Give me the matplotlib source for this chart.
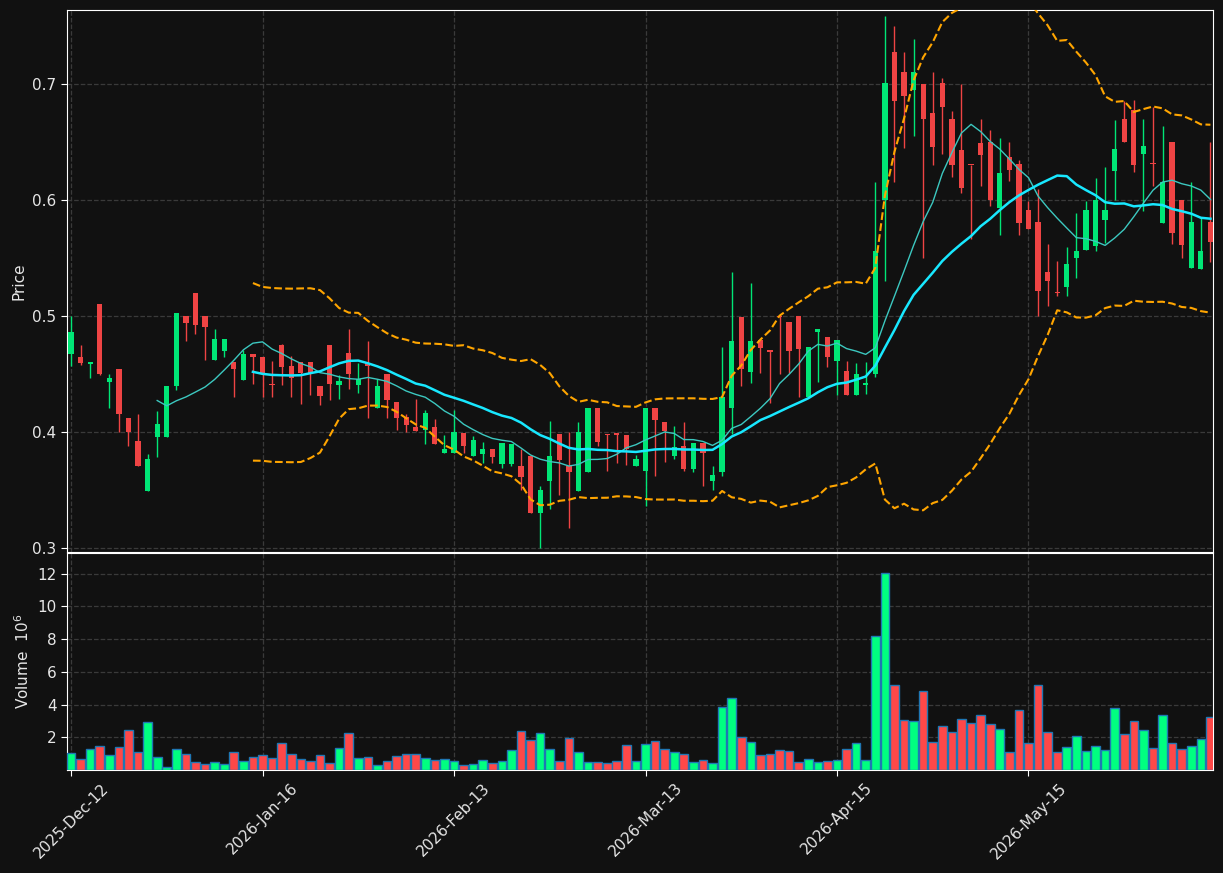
import matplotlib
matplotlib.use('Agg')
import matplotlib.pyplot as plt
import numpy as np
import pandas as pd

# daily OHLC (120 sessions)
opens = [0.4669, 0.4648, 0.4583, 0.5104, 0.4428, 0.4544, 0.4124, 0.3924, 0.3495, 0.3954,
         0.3954, 0.4392, 0.5003, 0.5200, 0.5003, 0.4619, 0.4696, 0.4607, 0.4446, 0.4672,
         0.4648, 0.4409, 0.4753, 0.4571, 0.4604, 0.4604, 0.4398, 0.4753, 0.4401, 0.4684,
         0.4401, 0.4595, 0.4204, 0.4502, 0.4261, 0.4133, 0.4046, 0.4014, 0.4046, 0.3817,
         0.3817, 0.3993, 0.3796, 0.3808, 0.3856, 0.3721, 0.3721, 0.3707, 0.3796, 0.3298,
         0.3581, 0.3981, 0.3707, 0.3495, 0.3659, 0.4207, 0.3984, 0.3993, 0.3975, 0.3707,
         0.3668, 0.4207, 0.4088, 0.3796, 0.3879, 0.3677, 0.3906, 0.3581, 0.3659, 0.4204,
         0.4994, 0.4520, 0.4795, 0.4699, 0.4997, 0.4950, 0.5003, 0.4303, 0.4860, 0.4821,
         0.4610, 0.4526, 0.4315, 0.4407, 0.4496, 0.5996, 0.7277, 0.7104, 0.6946, 0.6994,
         0.6744, 0.7006, 0.6693, 0.6425, 0.6303, 0.6493, 0.6502, 0.5927, 0.6365, 0.6312,
         0.5909, 0.5805, 0.5382, 0.5200, 0.5248, 0.5498, 0.5567, 0.5599, 0.5826, 0.6246,
         0.6693, 0.6771, 0.6395, 0.6318, 0.5799, 0.6502, 0.6002, 0.5411, 0.5402, 0.5805]
highs = [0.5000, 0.4750, 0.4607, 0.5104, 0.4503, 0.4544, 0.4124, 0.4154, 0.3811, 0.4183,
         0.4398, 0.5027, 0.5003, 0.5200, 0.5003, 0.4887, 0.4803, 0.4607, 0.4705, 0.4672,
         0.4648, 0.4613, 0.4762, 0.4654, 0.4604, 0.4604, 0.4398, 0.4753, 0.4491, 0.4890,
         0.4595, 0.4786, 0.4458, 0.4502, 0.4261, 0.4154, 0.4288, 0.4189, 0.4109, 0.3975,
         0.4189, 0.3993, 0.3966, 0.3915, 0.3856, 0.3906, 0.3897, 0.3856, 0.3796, 0.3537,
         0.4094, 0.3981, 0.4000, 0.4088, 0.4207, 0.4207, 0.3984, 0.3993, 0.3975, 0.3802,
         0.4207, 0.4207, 0.4088, 0.4055, 0.4088, 0.3906, 0.3906, 0.3707, 0.4735, 0.5376,
         0.4994, 0.5283, 0.4795, 0.4699, 0.4997, 0.4950, 0.5003, 0.4735, 0.4890, 0.4821,
         0.4792, 0.4610, 0.4595, 0.4601, 0.6157, 0.7587, 0.7501, 0.7274, 0.7382, 0.6994,
         0.7104, 0.7051, 0.6768, 0.6994, 0.6303, 0.6693, 0.6598, 0.6532, 0.6499, 0.6341,
         0.5990, 0.6097, 0.5620, 0.5474, 0.5590, 0.5888, 0.5990, 0.6186, 0.6285, 0.6687,
         0.6851, 0.6860, 0.6699, 0.6797, 0.6637, 0.6502, 0.6002, 0.6157, 0.5853, 0.6499]
lows = [0.4571, 0.4580, 0.4464, 0.4488, 0.4207, 0.4000, 0.3876, 0.3704, 0.3495, 0.3781,
        0.3954, 0.4362, 0.4786, 0.4845, 0.4622, 0.4619, 0.4645, 0.4303, 0.4446, 0.4413,
        0.4303, 0.4303, 0.4407, 0.4303, 0.4243, 0.4318, 0.4234, 0.4273, 0.4282, 0.4371,
        0.4333, 0.4124, 0.4204, 0.4124, 0.4020, 0.4000, 0.4005, 0.3900, 0.3900, 0.3817,
        0.3817, 0.3817, 0.3796, 0.3730, 0.3730, 0.3686, 0.3707, 0.3498, 0.3298, 0.3000,
        0.3340, 0.3459, 0.3170, 0.3495, 0.3659, 0.3879, 0.3662, 0.3730, 0.3713, 0.3707,
        0.3358, 0.3617, 0.3745, 0.3766, 0.3662, 0.3653, 0.3534, 0.3498, 0.3617, 0.3981,
        0.4392, 0.4422, 0.4505, 0.4249, 0.4496, 0.4511, 0.4303, 0.4303, 0.4428, 0.4556,
        0.4318, 0.4315, 0.4315, 0.4327, 0.4473, 0.5301, 0.6157, 0.6449, 0.6550, 0.5501,
        0.6300, 0.6395, 0.6195, 0.6061, 0.5659, 0.6121, 0.5948, 0.5698, 0.6160, 0.5698,
        0.5745, 0.5000, 0.5087, 0.5167, 0.5173, 0.5328, 0.5567, 0.5555, 0.5626, 0.5999,
        0.6496, 0.6240, 0.5906, 0.6121, 0.5799, 0.5620, 0.5501, 0.5411, 0.5402, 0.5465]
closes = [0.4857, 0.4592, 0.4607, 0.4496, 0.4467, 0.4151, 0.3996, 0.3704, 0.3769, 0.4070,
          0.4398, 0.5027, 0.4938, 0.4920, 0.4902, 0.4803, 0.4803, 0.4541, 0.4675, 0.4643,
          0.4511, 0.4405, 0.4556, 0.4461, 0.4505, 0.4505, 0.4306, 0.4410, 0.4443, 0.4496,
          0.4452, 0.4565, 0.4398, 0.4279, 0.4118, 0.4064, 0.4011, 0.4166, 0.3900, 0.3856,
          0.4000, 0.3876, 0.3930, 0.3856, 0.3787, 0.3906, 0.3897, 0.3608, 0.3298, 0.3498,
          0.3796, 0.3760, 0.3659, 0.4000, 0.4207, 0.3915, 0.3972, 0.3972, 0.3856, 0.3766,
          0.4207, 0.4100, 0.4005, 0.3871, 0.3683, 0.3906, 0.3817, 0.3632, 0.4303, 0.4786,
          0.4541, 0.4786, 0.4720, 0.4693, 0.4988, 0.4696, 0.4711, 0.4735, 0.4890, 0.4643,
          0.4792, 0.4315, 0.4502, 0.4413, 0.5555, 0.7006, 0.6851, 0.6893, 0.7104, 0.6696,
          0.6455, 0.6797, 0.6300, 0.6100, 0.6297, 0.6386, 0.5996, 0.6234, 0.6255, 0.5799,
          0.5745, 0.5212, 0.5298, 0.5194, 0.5450, 0.5555, 0.5909, 0.6002, 0.5909, 0.6434,
          0.6496, 0.6300, 0.6461, 0.6306, 0.6157, 0.5713, 0.5608, 0.5805, 0.5555, 0.5635]
volumes = [1.02, 0.66, 1.27, 1.45, 0.90, 1.39, 2.43, 1.09, 2.91, 0.78,
           0.17, 1.27, 0.96, 0.48, 0.35, 0.48, 0.35, 1.09, 0.54, 0.78,
           0.90, 0.72, 1.63, 0.96, 0.66, 0.54, 0.90, 0.42, 1.33, 2.24,
           0.72, 0.78, 0.29, 0.54, 0.84, 0.96, 0.96, 0.72, 0.60, 0.66,
           0.54, 0.29, 0.35, 0.60, 0.42, 0.54, 1.21, 2.37, 1.82, 2.24,
           1.27, 0.54, 1.94, 1.09, 0.48, 0.48, 0.42, 0.54, 1.51, 0.54,
           1.57, 1.76, 1.27, 1.09, 0.96, 0.48, 0.60, 0.42, 3.87, 4.38,
           2.00, 1.70, 0.90, 0.96, 1.21, 1.15, 0.48, 0.66, 0.48, 0.54,
           0.60, 1.27, 1.63, 0.60, 8.22, 12.06, 5.17, 3.04, 2.98, 4.81,
           1.70, 2.67, 2.30, 3.10, 2.85, 3.34, 2.79, 2.49, 1.09, 3.65,
           1.63, 5.17, 2.30, 1.09, 1.39, 2.06, 1.15, 1.45, 1.21, 3.77,
           2.18, 2.98, 2.43, 1.33, 3.34, 1.63, 1.27, 1.45, 1.87, 3.27]  # millions

tick_pos = [0, 20, 40, 60, 80, 100]
tick_labels = ['2025-Dec-12', '2026-Jan-16', '2026-Feb-13',
               '2026-Mar-13', '2026-Apr-15', '2026-May-15']

o = np.array(opens)
h = np.array(highs)
l = np.array(lows)
c = np.array(closes)
v = np.array(volumes)
x = np.arange(len(c))

# indicators: 10/20 moving averages and 20-day bollinger bands
s = pd.Series(c)
ma10 = s.rolling(10).mean()
ma20 = s.rolling(20).mean()
sd20 = s.rolling(20).std(ddof=0)
bb_up = ma20 + 2 * sd20
bb_lo = ma20 - 2 * sd20

bg = '#111111'
up_col, dn_col = '#00e676', '#ef4444'
vup_col, vdn_col = '#00ff80', '#ff4848'
txt = '#e6e6e6'

plt.rcParams['font.size'] = 11

fig = plt.figure(figsize=(12.23, 8.73), dpi=100, facecolor=bg)
ax = fig.add_axes([67/1223, 1 - 552/873, 1146/1223, 542/873])
axv = fig.add_axes([67/1223, 1 - 770/873, 1146/1223, 217/873], sharex=ax)

is_up = c >= o
cols = np.where(is_up, up_col, dn_col)

# candles
ax.vlines(x, l, h, colors=cols, linewidth=1.0, zorder=3)
body = np.maximum(np.abs(c - o), 0.0012)
ax.bar(x, body, width=0.55, bottom=np.minimum(o, c), color=cols, linewidth=0, zorder=4)

ax.plot(x, ma10, color='#3cc8c0', linewidth=1.0, zorder=5)
ax.plot(x, ma20, color='#18e8ff', linewidth=1.8, zorder=5)
ax.plot(x, bb_up, color='#ffa500', linestyle='--', linewidth=1.5, zorder=5)
ax.plot(x, bb_lo, color='#ffa500', linestyle='--', linewidth=1.5, zorder=5)

# volume
vcols = np.where(is_up, vup_col, vdn_col)
axv.bar(x, v, width=0.9, color=vcols, edgecolor='#1f77b4', linewidth=1.0, zorder=3)

for a in (ax, axv):
    a.set_facecolor(bg)
    a.grid(True, linestyle='--', color='#3a3a3a', linewidth=0.9)
    a.set_axisbelow(True)
    for sp in a.spines.values():
        sp.set_color('white')
    a.tick_params(colors='white', labelcolor=txt, length=4)

ax.set_xlim(-0.42, 119.27)
ax.set_ylim(0.2966, 0.7635)
ax.set_yticks([0.3, 0.4, 0.5, 0.6, 0.7])
ax.set_ylabel('Price', color=txt)
ax.tick_params(axis='x', labelbottom=False)

axv.set_ylim(0, v.max() * 1.1)
axv.set_yticks([2, 4, 6, 8, 10, 12])
axv.set_ylabel('Volume  $10^6$', color=txt)
axv.set_xticks(tick_pos)
axv.set_xticklabels(tick_labels, rotation=45)

fig.savefig('out.png', dpi=100, facecolor=bg)
